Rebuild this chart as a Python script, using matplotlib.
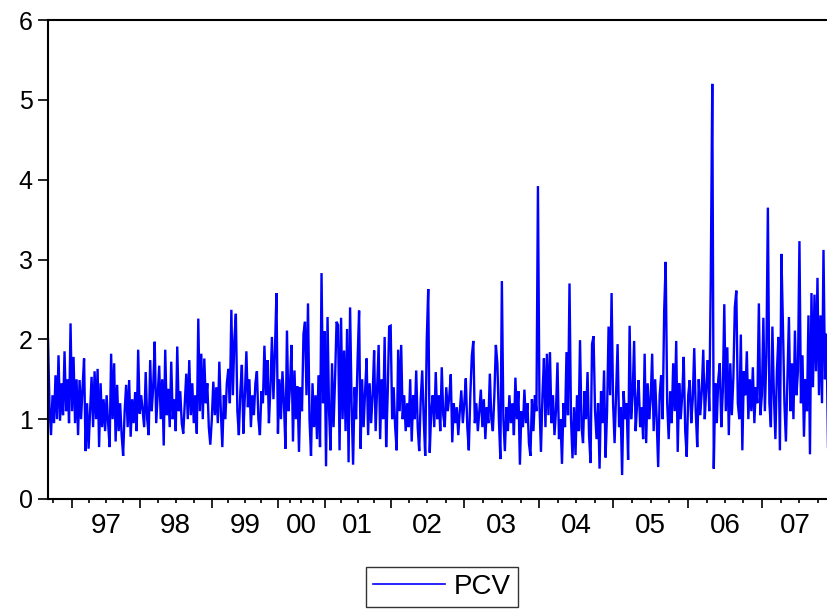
import numpy as np
import matplotlib.pyplot as plt
from matplotlib.lines import Line2D
import matplotlib.transforms as mtransforms

plt.rcParams['font.family'] = ['Liberation Sans', 'DejaVu Sans']

# PCV series, one list per calendar year
pcv_96 = [2.0, 1.15, 0.8, 1.3, 0.95, 1.55, 1.0, 1.8, 0.98, 1.45, 1.05, 1.85, 1.1, 1.5, 0.95, 2.2]
pcv_97 = [1.1, 1.78, 0.95, 1.5, 0.8, 1.49, 1.0, 1.4, 1.76, 0.6, 1.2, 0.63, 1.1, 1.53, 0.9,
          1.6, 1.0, 1.63, 0.65, 1.45, 0.9, 1.25, 0.85, 1.3, 0.95, 0.65, 1.82, 1.0, 1.7, 0.72,
          1.43, 0.85, 1.2, 0.8, 0.54, 1.1, 1.43, 0.9, 1.49, 0.78, 1.25, 0.95, 1.34, 0.85, 1.87]
pcv_98 = [1.07, 1.3, 1.1, 0.9, 1.59, 1.0, 0.8, 1.74, 1.1, 1.4, 1.97, 0.95, 1.3, 1.67, 1.0,
          1.5, 0.67, 1.87, 1.05, 1.38, 0.9, 1.72, 1.0, 1.25, 0.85, 1.91, 1.1, 1.35, 0.95, 0.82,
          1.2, 1.57, 1.0, 1.74, 1.05, 1.45, 0.95, 1.3, 0.82, 2.26, 1.1, 1.82, 1.0, 1.76, 1.2,
          1.45, 0.9, 0.68]
pcv_99 = [1.0, 1.47, 1.05, 1.4, 0.95, 1.72, 1.1, 0.65, 1.3, 1.0, 1.45, 1.63, 1.2, 2.37, 1.3,
          2.0, 2.32, 1.1, 0.8, 1.35, 1.68, 0.82, 1.3, 1.85, 1.15, 1.5, 0.9, 1.3, 1.05, 1.45,
          1.6, 1.0, 0.8, 1.35, 1.2, 1.92, 1.3, 1.74, 0.95, 1.4, 2.03, 1.25, 1.85, 2.58]
pcv_00 = [0.82, 1.5, 1.0, 1.6, 1.2, 0.63, 2.11, 1.1, 1.4, 1.93, 0.72, 1.61, 1.0, 1.41, 0.59,
          1.4, 1.1, 2.07, 2.22, 1.3, 2.45, 1.0, 0.54, 1.45, 0.9, 1.3, 0.75, 1.55, 0.65, 2.83, 1.2]
pcv_01 = [2.1, 0.41, 2.28, 1.1, 0.61, 1.7, 0.9, 1.5, 2.22, 2.18, 0.61, 2.27, 1.0, 1.86, 0.85,
          2.13, 0.46, 2.4, 1.2, 0.43, 1.4, 1.0, 1.74, 2.36, 0.63, 1.5, 0.9, 1.35, 1.76, 0.8,
          1.45, 0.95, 1.3, 1.86, 0.85, 1.4, 1.93, 0.75, 1.5, 1.0, 2.03, 0.65, 1.3, 2.16]
pcv_02 = [2.17, 1.0, 1.4, 0.9, 0.61, 1.87, 1.1, 1.93, 1.0, 1.3, 0.85, 1.2, 0.9, 1.5, 0.72,
          1.3, 1.0, 1.61, 0.9, 0.6, 1.25, 1.61, 1.0, 0.54, 1.98, 2.63, 0.58, 1.1, 1.3, 0.9,
          1.59, 1.0, 1.3, 0.85, 1.65, 1.05, 0.9, 1.4, 1.1, 1.28, 1.56, 0.71, 1.2, 0.95, 1.15,
          0.8, 1.1, 1.36, 0.95]
pcv_03 = [1.2, 1.51, 0.9, 0.61, 1.3, 1.79, 1.98, 0.95, 1.2, 0.85, 1.1, 1.37, 0.9, 1.25, 0.75,
          1.15, 0.95, 1.57, 1.0, 0.85, 1.3, 1.93, 1.7, 1.0, 0.5, 2.73, 1.0, 0.6, 1.15, 0.85,
          1.3, 0.95, 1.2, 0.8, 1.52, 1.0, 1.35, 0.43, 1.1, 0.9, 1.37, 0.95, 1.2, 0.7, 0.54,
          1.25, 0.85, 1.3, 1.1, 3.92]
pcv_04 = [1.2, 0.59, 1.3, 1.76, 0.9, 1.82, 1.05, 1.84, 0.95, 1.3, 0.8, 1.1, 1.71, 0.75, 1.0,
          0.44, 1.2, 0.9, 1.84, 1.05, 2.7, 1.0, 0.51, 1.15, 0.55, 1.3, 0.85, 1.99, 0.9, 0.7,
          1.35, 1.0, 1.59, 0.8, 0.45, 1.94, 2.04, 1.1, 0.75, 1.2, 0.38, 1.35, 0.95, 1.61, 0.52,
          1.1, 2.16, 1.3, 2.58]
pcv_05 = [1.2, 0.7, 1.3, 1.94, 0.9, 1.15, 0.3, 1.35, 1.0, 1.2, 0.49, 2.17, 1.0, 1.3, 1.98,
          0.85, 1.2, 1.49, 0.9, 1.15, 0.75, 1.82, 0.7, 1.45, 1.0, 1.25, 1.82, 0.85, 1.5, 1.0,
          0.4, 1.3, 1.55, 1.0, 2.36, 2.97, 1.2, 0.75, 1.35, 0.95, 1.7, 1.1, 1.98, 0.59, 1.45,
          1.0, 1.3, 1.78, 0.85, 0.53]
pcv_06 = [1.3, 1.49, 0.95, 1.25, 1.89, 1.1, 0.65, 1.5, 1.05, 1.35, 1.87, 1.0, 1.4, 1.74, 1.1,
          2.77, 5.2, 0.38, 1.45, 0.95, 1.5, 1.7, 0.9, 1.35, 2.44, 1.1, 1.9, 0.8, 1.7, 1.05,
          1.5, 2.4, 2.61, 1.2, 1.0, 2.06, 0.61, 1.6, 1.3, 1.85, 1.0, 1.5, 1.1, 1.65, 0.95,
          1.4, 1.2, 2.45, 1.05]
pcv_07 = [1.3, 2.27, 1.1, 1.8, 3.65, 1.2, 0.9, 2.16, 1.3, 0.75, 1.6, 2.03, 0.61, 3.07, 2.19,
          1.2, 0.72, 1.5, 2.28, 1.1, 1.7, 1.0, 2.11, 1.3, 1.6, 3.23, 1.2, 1.8, 0.78, 1.5,
          1.1, 2.3, 0.56, 2.58, 1.4, 2.56, 1.6, 2.77, 1.3, 2.3, 1.2, 3.12, 1.5, 2.07, 0.65]

year_labels = ["97", "98", "99", "00", "01", "02", "03", "04", "05", "06", "07"]
years = [pcv_96, pcv_97, pcv_98, pcv_99, pcv_00, pcv_01, pcv_02, pcv_03, pcv_04, pcv_05, pcv_06, pcv_07]

pcv = np.concatenate([np.array(y) for y in years])
idx = np.arange(len(pcv))
starts = np.cumsum([0] + [len(y) for y in years])[:-1]
full_q = len(pcv_05) / 4.0

fig = plt.figure(figsize=(8.28, 6.10), dpi=100)
ax = fig.add_axes([48 / 828, 111 / 610, 1 - 48 / 828, 479 / 610])

ax.plot(idx, pcv, color="#0000ff", lw=1.7, solid_joinstyle="miter")

ax.set_xlim(0, len(pcv) - 1)
ax.set_ylim(0, 6)

# year boundaries as major ticks, quarters as minor ticks
bounds = starts[1:]
ax.set_xticks(bounds)
ax.set_xticklabels([])
minor = [bounds[0] - full_q]
for i, s in enumerate(bounds):
    if i + 1 < len(bounds):
        q = (bounds[i + 1] - s) / 4.0
    else:
        q = full_q
    for k in (1, 2, 3):
        if s + k * q < len(pcv):
            minor.append(s + k * q)
ax.set_xticks(minor, minor=True)
ax.tick_params(axis="x", which="major", length=6.5, width=1.2, direction="out")
ax.tick_params(axis="x", which="minor", length=3, width=1.2, direction="out")

ends = list(bounds[1:]) + [len(pcv) - 1]
trans = mtransforms.blended_transform_factory(ax.transData, ax.transAxes)
for lab, s, e in zip(year_labels, bounds, ends):
    ax.text((s + e) / 2.0, -0.029, lab, transform=trans, ha="center", va="top", fontsize=20)

ax.set_yticks(range(0, 7))
ax.tick_params(axis="y", length=7, width=1.2, direction="out", pad=4, labelsize=18)

for side in ("left", "bottom", "top"):
    ax.spines[side].set_linewidth(1.5)
    ax.spines[side].set_color("black")
ax.spines["right"].set_visible(False)

handle = Line2D([], [], color="#0000ff", lw=1.2)
leg = fig.legend([handle], ["PCV"], loc="center", bbox_to_anchor=(442 / 828, 23 / 610),
                 fontsize=20, frameon=True, fancybox=False, borderpad=0.25,
                 handlelength=2.6, handletextpad=0.3)
leg.get_frame().set_edgecolor("black")
leg.get_frame().set_linewidth(1.0)

fig.savefig("out.png", dpi=100)
